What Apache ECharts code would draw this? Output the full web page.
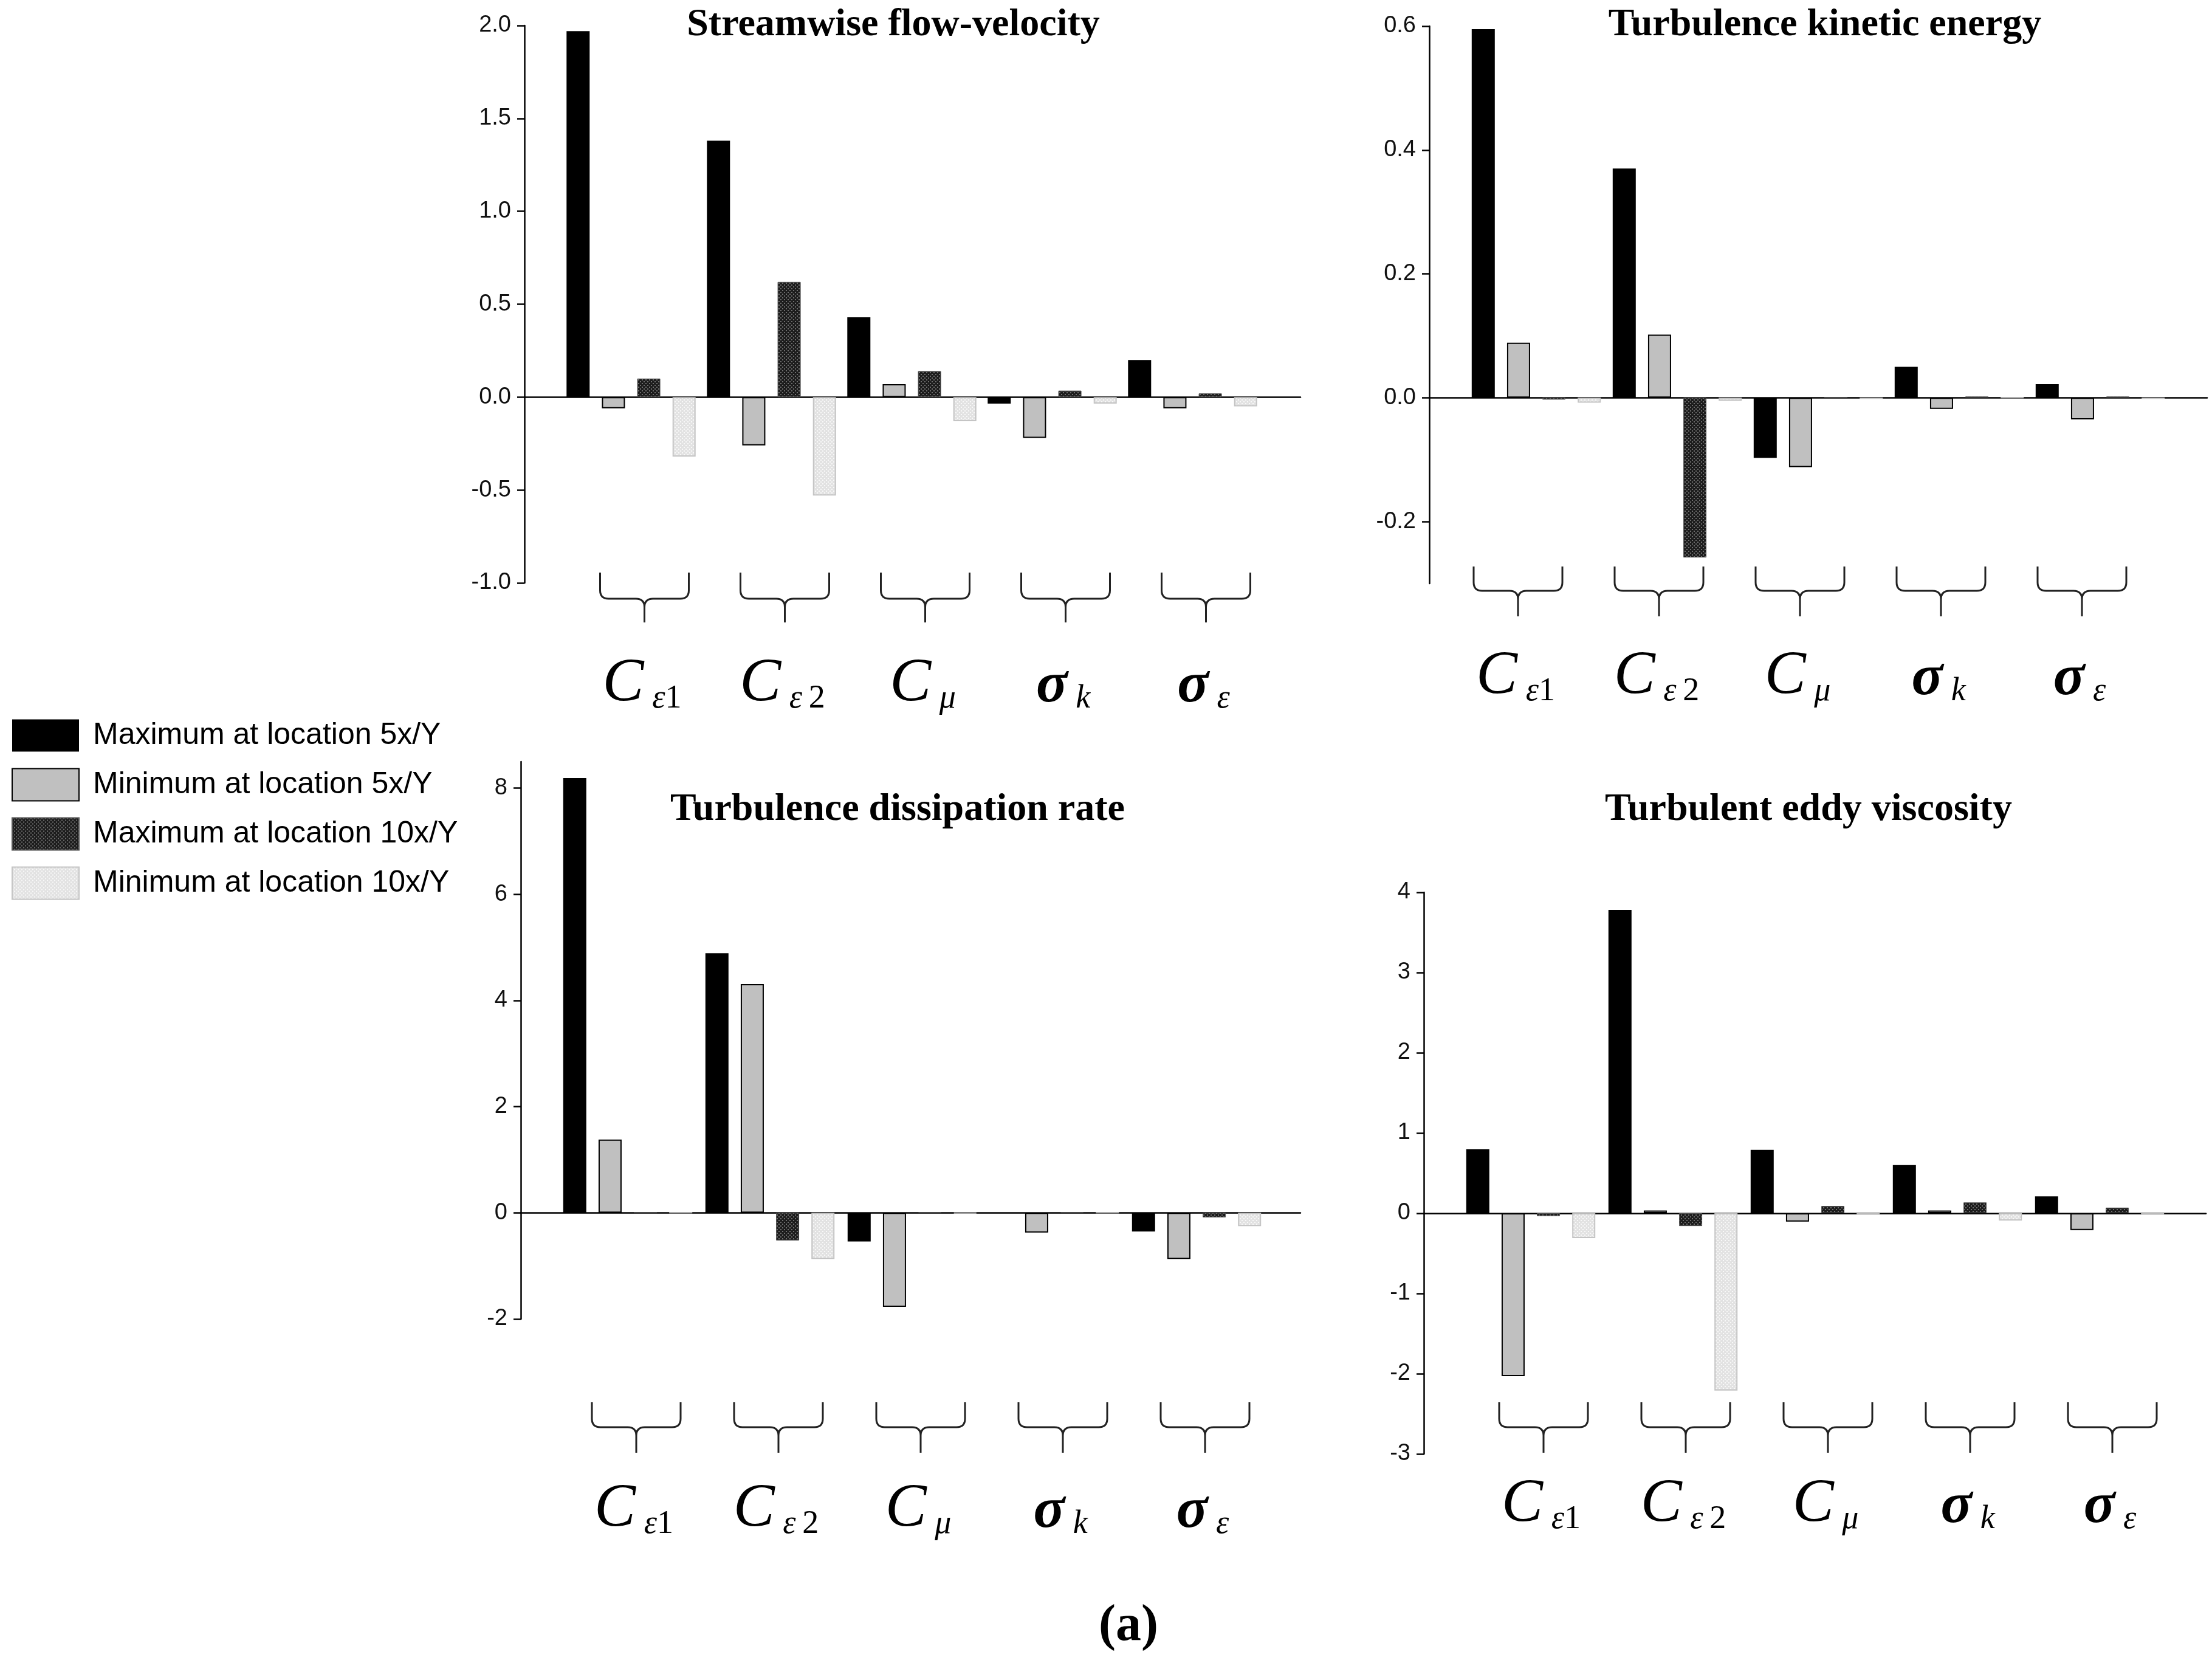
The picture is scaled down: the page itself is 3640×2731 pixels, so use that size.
<!DOCTYPE html>
<html lang="en">
<head>
  <meta charset="UTF-8">
  <title>Sensitivity of turbulence quantities</title>
  <style>
    html, body { margin: 0; padding: 0; background: #fff; }
    #main { width: 3640px; height: 2731px; }
  </style>
</head>
<body>
  <div id="main"></div>

  <script src="https://cdn.jsdelivr.net/npm/echarts@6/dist/echarts.min.js"></script>

  <script>
    // data
    var categories = ['Cε1', 'Cε2', 'Cμ', 'σk', 'σε']
    var seriesNames = ['Maximum at location 5x/Y', 'Minimum at location 5x/Y',
      'Maximum at location 10x/Y', 'Minimum at location 10x/Y']

    var velMax5 = [1.97, 1.38, 0.43, -0.035, 0.20]
    var velMin5 = [-0.06, -0.26, 0.07, -0.22, -0.06]
    var velMax10 = [0.10, 0.62, 0.14, 0.035, 0.02]
    var velMin10 = [-0.32, -0.53, -0.13, -0.035, -0.05]

    var tkeMax5 = [0.595, 0.37, -0.097, 0.05, 0.022]
    var tkeMin5 = [0.089, 0.102, -0.112, -0.018, -0.035]
    var tkeMax10 = [-0.003, -0.258, 0, 0.002, 0.002]
    var tkeMin10 = [-0.008, -0.005, -0.002, 0, -0.002]

    var disMax5 = [8.19, 4.89, -0.54, 0, -0.35]
    var disMin5 = [1.38, 4.31, -1.77, -0.37, -0.87]
    var disMax10 = [0, -0.52, 0.01, 0.01, -0.085]
    var disMin10 = [0, -0.87, -0.01, 0, -0.25]

    var visMax5 = [0.80, 3.78, 0.79, 0.60, 0.21]
    var visMin5 = [-2.03, 0.035, -0.105, 0.035, -0.21]
    var visMax10 = [-0.035, -0.16, 0.09, 0.135, 0.07]
    var visMin10 = [-0.31, -2.21, -0.02, -0.09, -0.02]

    var velTicks = [-1, -0.5, 0, 0.5, 1, 1.5, 2]
    var tkeTicks = [-0.2, 0, 0.2, 0.4, 0.6]
    var disTicks = [-2, 0, 2, 4, 6, 8]
    var visTicks = [-3, -2, -1, 0, 1, 2, 3, 4]

    // category label markup (italic C / sigma with subscripts)
    var catLabels = {
      'Cε1': '{c|C}{s| ε}{n|1}',
      'Cε2': '{c|C}{s| ε}{n|\u20092}',
      'Cμ': '{c|C}{s| μ}',
      'σk': '{g|σ}{s| k}',
      'σε': '{g|σ}{s| ε}'
    }

    // panel layout in px
    var panels = [
      { title: 'Streamwise flow-velocity', titleX: 1470, titleY: 44,
        axisX: 863, xEnd: 2140, top: 42, bottom: 959, min: -1, max: 2, ticks: velTicks, dec: 1,
        bandStart: 923, pitch: 231, braceShift: 22, braceTop: 942, braceMid: 985, braceTip: 1024, labelY: 1122,
        data: [velMax5, velMin5, velMax10, velMin10] },
      { title: 'Turbulence kinetic energy', titleX: 3003, titleY: 44,
        axisX: 2352, xEnd: 3632, top: 43, bottom: 960, min: -0.3, max: 0.6, ticks: tkeTicks, dec: 1,
        bandStart: 2412, pitch: 232, braceShift: -30, braceTop: 932, braceMid: 972, braceTip: 1014, labelY: 1110,
        data: [tkeMax5, tkeMin5, tkeMax10, tkeMin10] },
      { title: 'Turbulence dissipation rate', titleX: 1477, titleY: 1335,
        axisX: 857, xEnd: 2140, top: 1253, bottom: 2170, min: -2, max: 8.5, ticks: disTicks, dec: 0,
        bandStart: 916, pitch: 234, braceShift: 14, braceTop: 2307, braceMid: 2348, braceTip: 2390, labelY: 2480,
        data: [disMax5, disMin5, disMax10, disMin10] },
      { title: 'Turbulent eddy viscosity', titleX: 2976, titleY: 1335,
        axisX: 2343, xEnd: 3630, top: 1468, bottom: 2392, min: -3, max: 4, ticks: visTicks, dec: 0,
        bandStart: 2402, pitch: 234, braceShift: 21, braceTop: 2307, braceMid: 2348, braceTip: 2390, labelY: 2472,
        data: [visMax5, visMin5, visMax10, visMin10] }
    ]

    function dotPattern(bg, dot) {
      var c = document.createElement('canvas')
      c.width = 6
      c.height = 6
      var ctx = c.getContext('2d')
      ctx.fillStyle = bg
      ctx.fillRect(0, 0, 6, 6)
      ctx.fillStyle = dot
      ctx.fillRect(0, 0, 2, 2)
      ctx.fillRect(3, 3, 2, 2)
      return { image: c, repeat: 'repeat' }
    }

    var barStyles = [
      { color: '#000000' },
      { color: '#c0c0c0', borderColor: '#000000', borderWidth: 2 },
      { color: dotPattern('#1c1c1c', '#6e6e6e'), borderColor: '#555555', borderWidth: 1 },
      { color: dotPattern('#e2e2e2', '#f8f8f8'), borderColor: '#c4c4c4', borderWidth: 2 }
    ]

    var labelRich = {
      c: { fontFamily: 'Liberation Serif', fontStyle: 'italic', fontSize: 102, lineHeight: 110, verticalAlign: 'bottom', color: '#000' },
      g: { fontFamily: 'Liberation Serif', fontStyle: 'italic', fontWeight: 'bold', fontSize: 96, lineHeight: 110, verticalAlign: 'bottom', color: '#000' },
      s: { fontFamily: 'Liberation Serif', fontStyle: 'italic', fontSize: 54, lineHeight: 56, verticalAlign: 'bottom', color: '#000' },
      n: { fontFamily: 'Liberation Serif', fontSize: 54, lineHeight: 56, verticalAlign: 'bottom', color: '#000' }
    }

    var grid = [], xAxis = [], yAxis = [], series = [], title = []

    panels.forEach(function (P, p) {
      var h = P.bottom - P.top
      // frame grid: visible y axis and the zero line
      grid.push({ left: P.axisX, top: P.top, width: P.xEnd - P.axisX, height: h })
      // bar grid: the category bands
      grid.push({ left: P.bandStart, top: P.top, width: P.pitch * 5, height: h })

      xAxis.push({
        gridIndex: 2 * p, type: 'value', min: 0, max: 1,
        axisLine: { onZero: true, lineStyle: { color: '#000', width: 2.5 } },
        axisTick: { show: false }, axisLabel: { show: false }, splitLine: { show: false }
      })
      xAxis.push({ gridIndex: 2 * p + 1, type: 'category', data: categories, show: false })

      yAxis.push({
        gridIndex: 2 * p, type: 'value', min: P.min, max: P.max,
        axisLine: { show: true, onZero: false, lineStyle: { color: '#000', width: 2.5 } },
        axisTick: { show: true, length: 12, customValues: P.ticks, lineStyle: { color: '#000', width: 2.5 } },
        axisLabel: {
          customValues: P.ticks, margin: 22, color: '#111',
          fontFamily: 'Liberation Sans', fontSize: 38,
          formatter: function (v) { return v.toFixed(P.dec) }
        },
        splitLine: { show: false }
      })
      yAxis.push({ gridIndex: 2 * p + 1, type: 'value', min: P.min, max: P.max, show: false })

      P.data.forEach(function (vals, s) {
        series.push({
          type: 'bar', name: seriesNames[s],
          xAxisIndex: 2 * p + 1, yAxisIndex: 2 * p + 1,
          data: vals, barWidth: 38, barGap: '53%',
          itemStyle: barStyles[s], silent: true
        })
      })

      // braces and category labels below each group
      series.push({
        type: 'custom', xAxisIndex: 2 * p + 1, yAxisIndex: 2 * p + 1,
        data: categories.map(function (c, i) { return [i, 0] }),
        silent: true, z: 5,
        renderItem: function (params, api) {
          var i = api.value(0)
          var cx = api.coord([i, 0])[0] + P.braceShift
          var hw = 73, r = 14
          var t = P.braceTop, m = P.braceMid, b = P.braceTip
          var d = 'M' + (cx - hw) + ' ' + t + ' L' + (cx - hw) + ' ' + (m - r) +
            ' Q' + (cx - hw) + ' ' + m + ' ' + (cx - hw + r) + ' ' + m +
            ' L' + (cx - r) + ' ' + m + ' Q' + cx + ' ' + m + ' ' + cx + ' ' + (m + r) +
            ' L' + cx + ' ' + b +
            ' M' + (cx + hw) + ' ' + t + ' L' + (cx + hw) + ' ' + (m - r) +
            ' Q' + (cx + hw) + ' ' + m + ' ' + (cx + hw - r) + ' ' + m +
            ' L' + (cx + r) + ' ' + m + ' Q' + cx + ' ' + m + ' ' + cx + ' ' + (m + r)
          return {
            type: 'group',
            children: [
              { type: 'path', shape: { pathData: d }, style: { stroke: '#222', lineWidth: 3, fill: null } },
              { type: 'text', x: cx - 4, y: P.labelY,
                style: { text: catLabels[categories[i]], rich: labelRich, align: 'center', verticalAlign: 'middle' } }
            ]
          }
        }
      })

      title.push({
        text: P.title, left: P.titleX, top: P.titleY - 35, textAlign: 'center', padding: 0,
        textStyle: { fontFamily: 'Liberation Serif', fontWeight: 'bold', fontSize: 64, color: '#000' }
      })
    })

    title.push({
      text: '({b|a})', left: 1857, top: 2634, textAlign: 'center', padding: 0,
      textStyle: {
        fontFamily: 'Liberation Serif', fontSize: 84, color: '#000',
        rich: { b: { fontFamily: 'Liberation Serif', fontWeight: 'bold', fontSize: 84, color: '#000' } }
      }
    })

    var myChart = echarts.init(document.getElementById('main'), null, { renderer: 'canvas' })
    myChart.setOption({
      animation: false,
      backgroundColor: '#ffffff',
      title: title,
      legend: {
        data: seriesNames, orient: 'vertical', left: 19, top: 1181, padding: 0,
        icon: 'rect', itemWidth: 110, itemHeight: 53, itemGap: 23, selectedMode: false,
        textStyle: { fontFamily: 'Liberation Sans', fontSize: 50, lineHeight: 58,
          color: '#000', padding: [0, 0, 0, 18] }
      },
      grid: grid,
      xAxis: xAxis,
      yAxis: yAxis,
      series: series
    })

    window.onresize = function () {
      myChart.resize()
    }
  </script>
</body>
</html>
